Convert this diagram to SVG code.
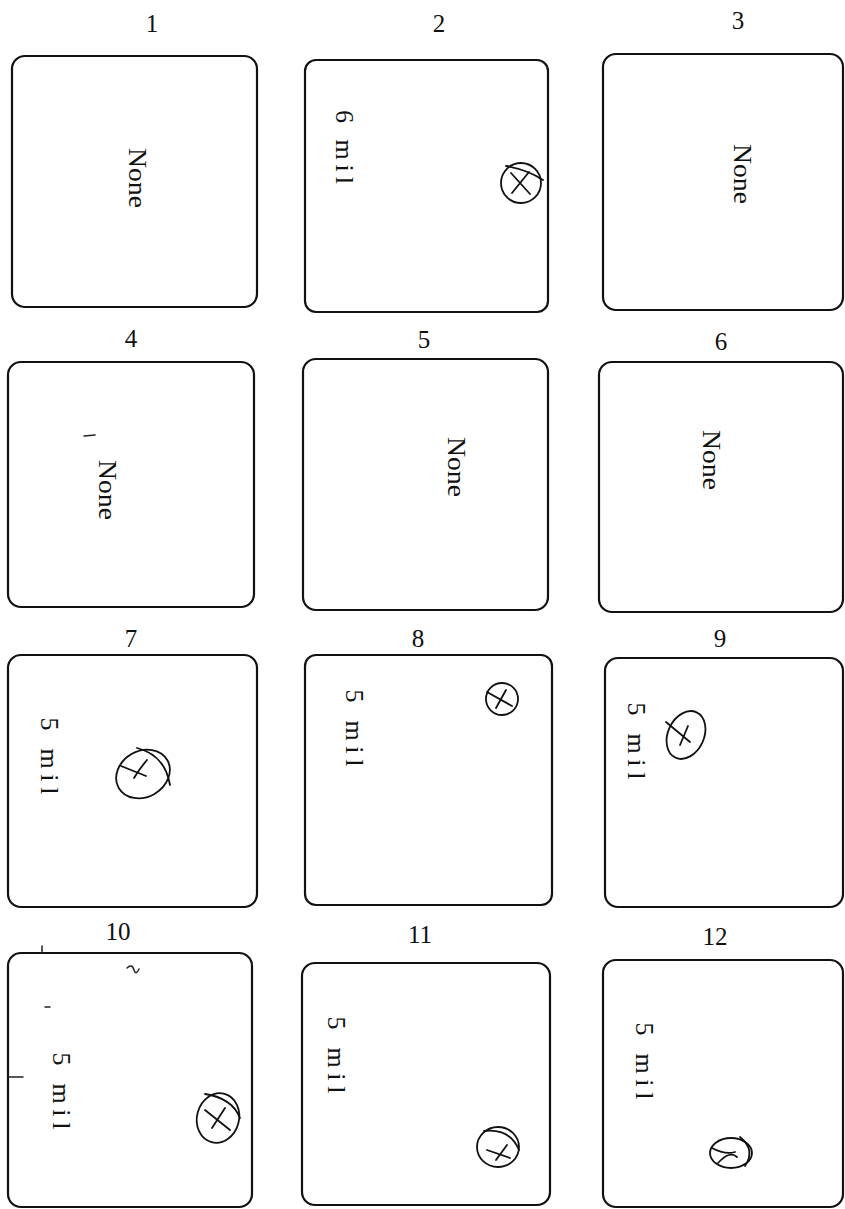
<svg xmlns="http://www.w3.org/2000/svg" width="845" height="1209" viewBox="0 0 845 1209">
<style>
.box{fill:none;stroke:#111;stroke-width:2.2}
.num{font-family:"Liberation Serif",serif;font-size:25px;fill:#111;text-anchor:middle}
.lbl{font-family:"Liberation Serif",serif;font-size:26px;fill:#111;text-anchor:middle}
.mark{fill:none;stroke:#111;stroke-width:1.8;stroke-linecap:round}
.speck{fill:none;stroke:#222;stroke-width:1.5;stroke-linecap:round}
</style>
<rect width="845" height="1209" fill="#fff"/>
<g id="connectors"/>
<g id="n1">
<rect class="box" x="12" y="56" width="245" height="251" rx="13"/>
<text class="num" x="152" y="32">1</text>
<text class="lbl" transform="translate(129,178) rotate(90)" textLength="60" lengthAdjust="spacingAndGlyphs">None</text>
</g>
<g id="n2">
<rect class="box" x="305" y="60" width="243" height="252" rx="11"/>
<text class="num" x="439" y="32">2</text>
<text class="lbl" transform="translate(336,147) rotate(90)" textLength="74" lengthAdjust="spacing">6 mil</text>
<g class="mark"><ellipse cx="521" cy="183" rx="20" ry="20"/><path d="M506,166 Q528,170 543,180"/><path d="M511,173 L530,194 M529,172 L512,193"/></g>
</g>
<g id="n3">
<rect class="box" x="603" y="54" width="240" height="256" rx="13"/>
<text class="num" x="738" y="29">3</text>
<text class="lbl" transform="translate(734,174) rotate(90)" textLength="60" lengthAdjust="spacingAndGlyphs">None</text>
</g>
<g id="n4">
<rect class="box" x="8" y="362" width="246" height="245" rx="13"/>
<text class="num" x="131" y="347">4</text>
<text class="lbl" transform="translate(99,490) rotate(90)" textLength="60" lengthAdjust="spacingAndGlyphs">None</text>
<path class="speck" d="M84,436 L95,435"/>
</g>
<g id="n5">
<rect class="box" x="303" y="359" width="245" height="251" rx="13"/>
<text class="num" x="424" y="348">5</text>
<text class="lbl" transform="translate(448,467) rotate(90)" textLength="60" lengthAdjust="spacingAndGlyphs">None</text>
</g>
<g id="n6">
<rect class="box" x="599" y="362" width="244" height="250" rx="13"/>
<text class="num" x="721" y="350">6</text>
<text class="lbl" transform="translate(703,460) rotate(90)" textLength="60" lengthAdjust="spacingAndGlyphs">None</text>
</g>
<g id="n7">
<rect class="box" x="8" y="655" width="249" height="252" rx="13"/>
<text class="num" x="131" y="647">7</text>
<text class="lbl" transform="translate(41,756) rotate(90)" textLength="77" lengthAdjust="spacing">5 mil</text>
<g class="mark"><ellipse cx="143" cy="774" rx="28" ry="23" transform="rotate(-30 143 774)"/><path d="M137,748 Q165,755 170,785"/><path d="M121,766 L146,776 M134,778 Q140,768 147,760"/></g>
</g>
<g id="n8">
<rect class="box" x="305" y="655" width="247" height="250" rx="11"/>
<text class="num" x="418" y="647">8</text>
<text class="lbl" transform="translate(346,728) rotate(90)" textLength="77" lengthAdjust="spacing">5 mil</text>
<g class="mark"><ellipse cx="502" cy="699" rx="16" ry="16"/><path d="M487,692 L512,706 M496,708 L506,690"/></g>
</g>
<g id="n9">
<rect class="box" x="605" y="658" width="238" height="249" rx="13"/>
<text class="num" x="720" y="647">9</text>
<text class="lbl" transform="translate(628,741) rotate(90)" textLength="77" lengthAdjust="spacing">5 mil</text>
<g class="mark"><ellipse cx="686" cy="735" rx="18" ry="25" transform="rotate(25 686 735)"/><path d="M666,722 L690,742 M680,745 L688,726"/></g>
</g>
<g id="n10">
<rect class="box" x="8" y="953" width="244" height="254" rx="13"/>
<text class="num" x="118" y="940">10</text>
<text class="lbl" transform="translate(53,1091) rotate(90)" textLength="77" lengthAdjust="spacing">5 mil</text>
<g class="mark"><ellipse cx="218" cy="1118" rx="21" ry="25" transform="rotate(15 218 1118)"/><path d="M205,1094 Q232,1098 240,1118"/><path d="M205,1110 L230,1130 M212,1128 L225,1108"/></g>
<path class="speck" d="M127,968 Q132,963 134,970 Q136,976 139,969"/>
<path class="speck" d="M42,953 L42,946 M8,1077 L23,1077 M45,1007 L50,1007"/>
</g>
<g id="n11">
<rect class="box" x="302" y="963" width="248" height="242" rx="13"/>
<text class="num" x="420" y="943">11</text>
<text class="lbl" transform="translate(328,1055) rotate(90)" textLength="77" lengthAdjust="spacing">5 mil</text>
<g class="mark"><ellipse cx="498" cy="1147" rx="21" ry="20"/><path d="M484,1131 Q510,1128 519,1150"/><path d="M487,1150 L510,1158 M496,1160 L507,1145"/></g>
</g>
<g id="n12">
<rect class="box" x="603" y="960" width="240" height="247" rx="13"/>
<text class="num" x="715" y="945">12</text>
<text class="lbl" transform="translate(636,1061) rotate(90)" textLength="77" lengthAdjust="spacing">5 mil</text>
<g class="mark"><ellipse cx="731" cy="1153" rx="21" ry="15"/><path d="M740,1137 Q756,1150 745,1166"/><path d="M712,1148 Q725,1155 735,1152 M718,1163 Q730,1150 737,1157"/></g>
</g>
</svg>
